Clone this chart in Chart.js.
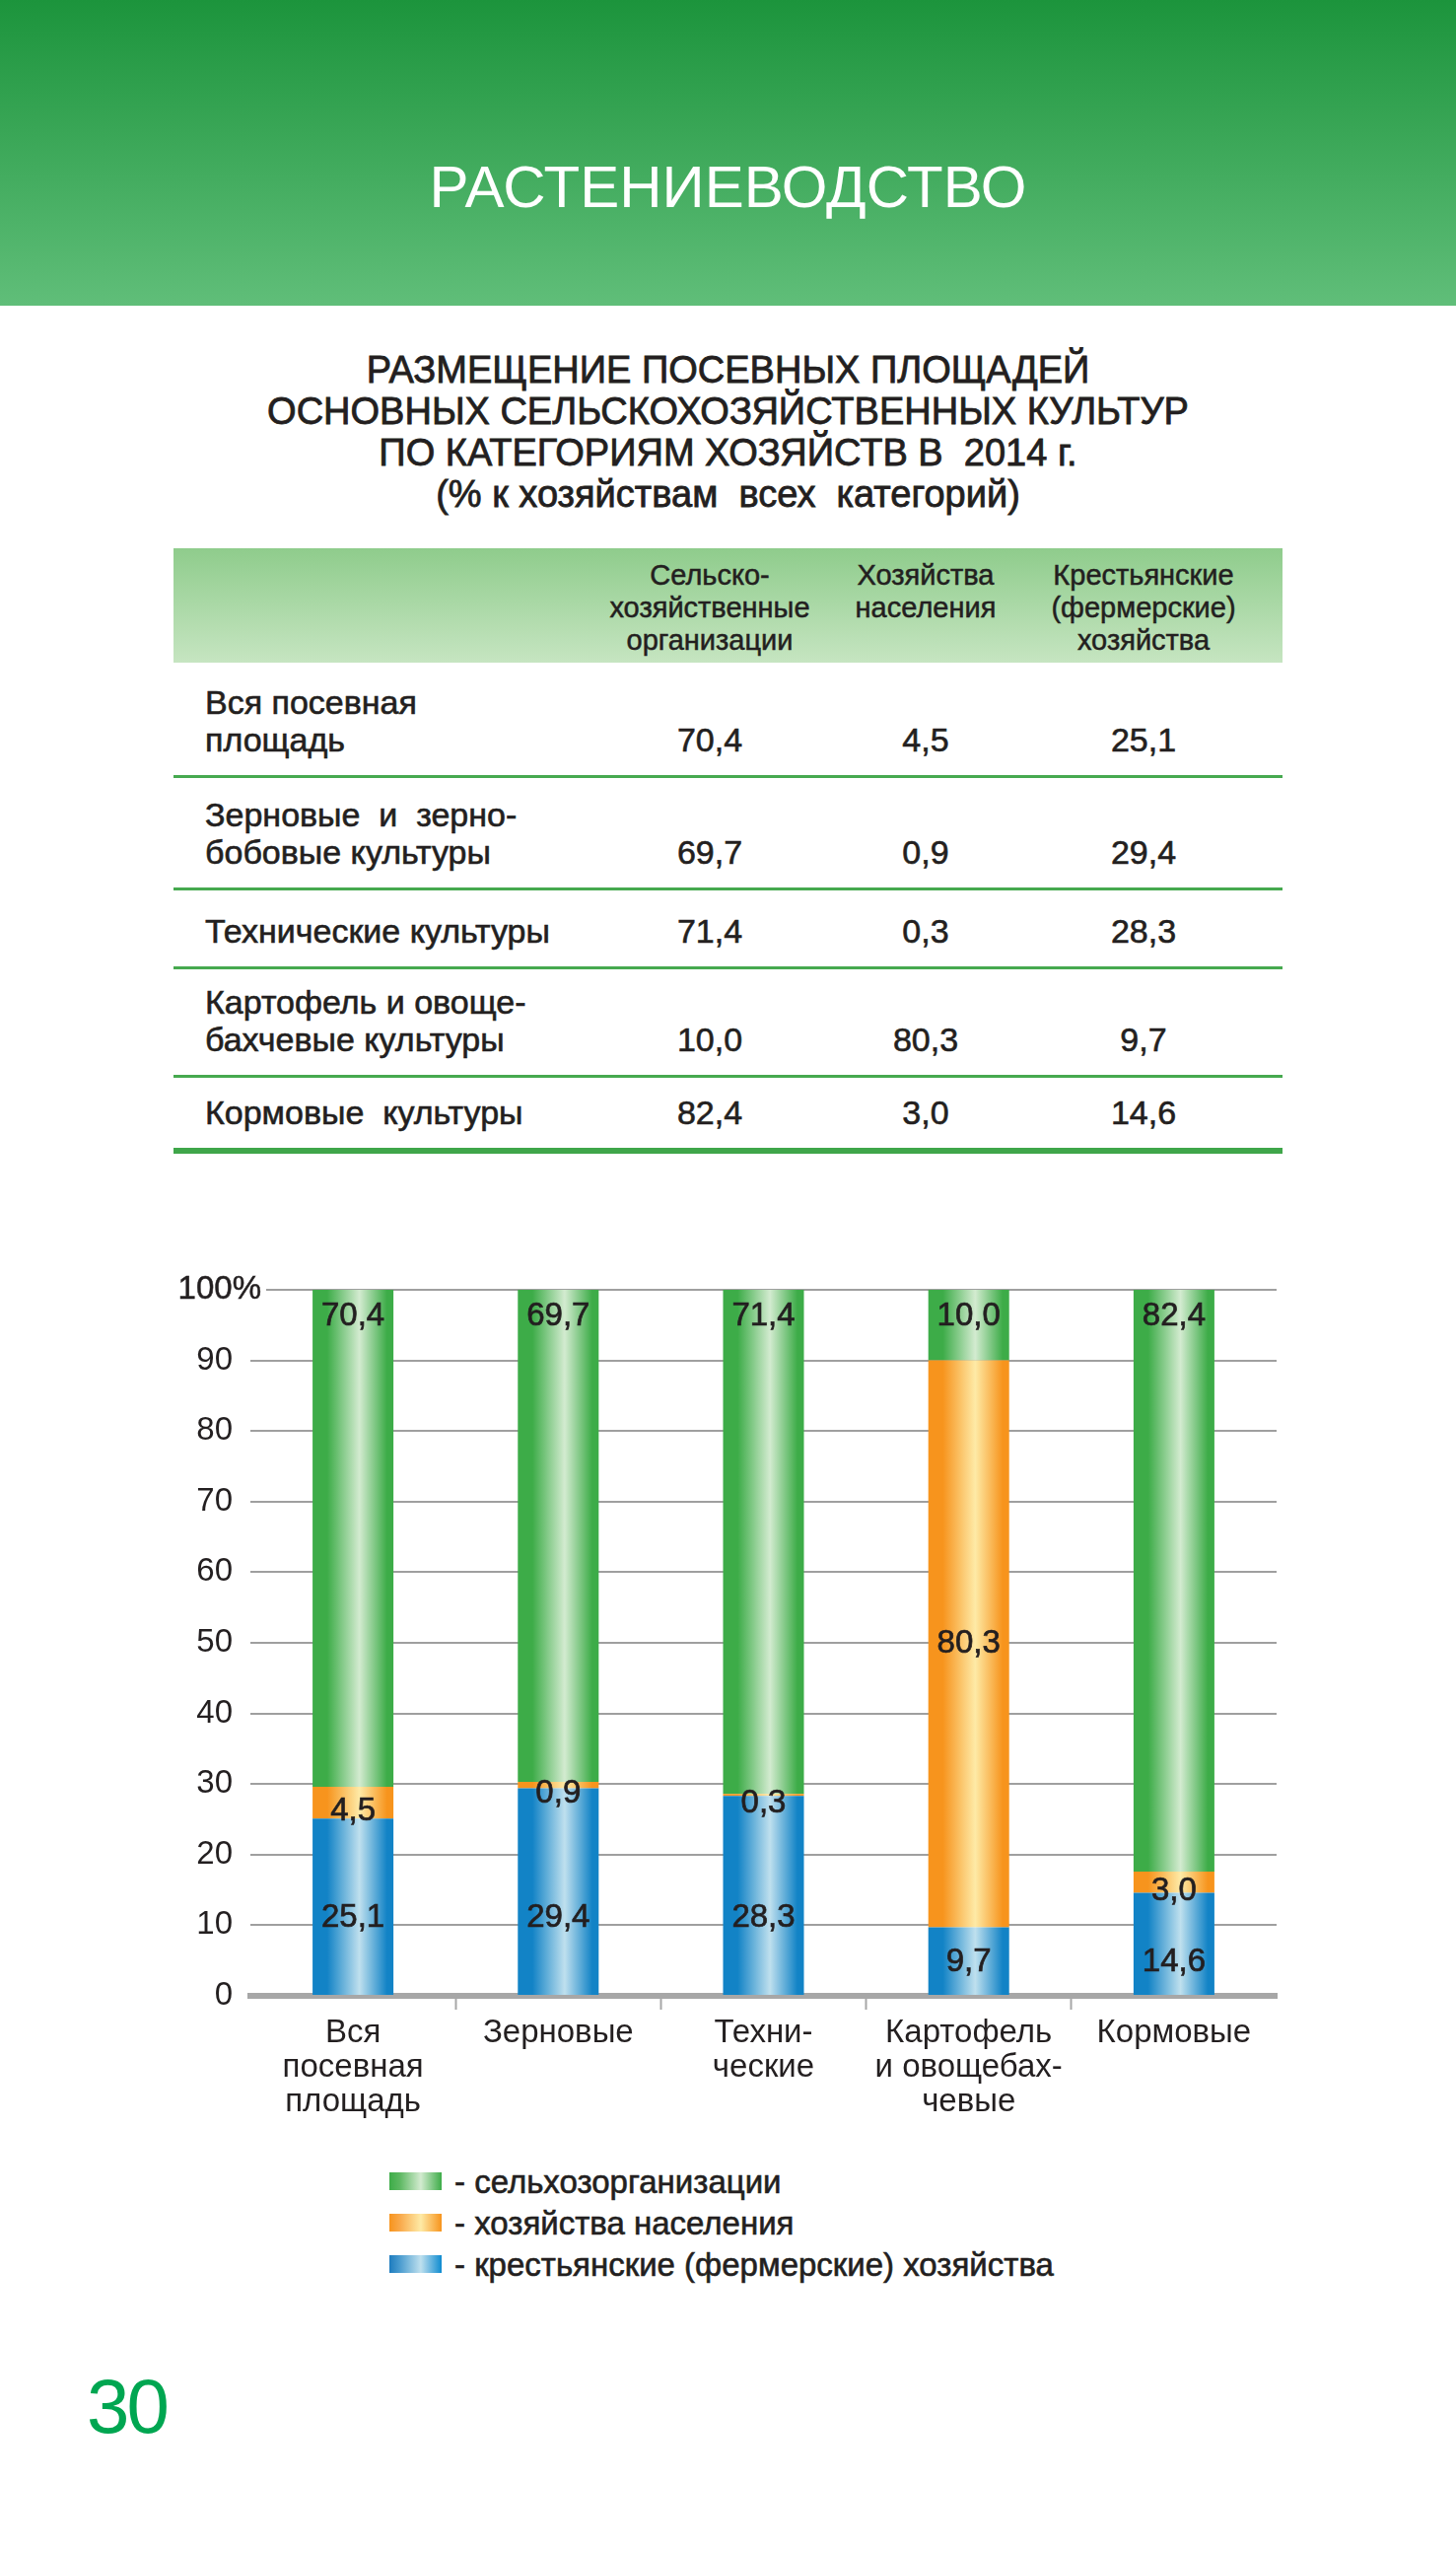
<!DOCTYPE html>
<html>
<head>
<meta charset="utf-8">
<script src="https://cdn.jsdelivr.net/npm/chart.js"></script>
<style>
  body { margin: 0; width: 1477px; height: 2588px; background: #fff; position: relative; font-family: "Liberation Sans", Arial, sans-serif; color: #231f20; overflow: hidden; }
  #head { position: absolute; left: 0; top: 0; width: 1477px; height: 310px; background: linear-gradient(#1c943c, #60be79); }
  #head div { position: absolute; left: 0; width: 100%; top: 150px; text-align: center; color: #fff; font-size: 60px; line-height: 80px; }
  #title { position: absolute; left: 0; top: 354px; width: 1477px; text-align: center; font-size: 38px; line-height: 42px; white-space: pre; -webkit-text-stroke: 0.8px #231f20; }
  #tbl { position: absolute; left: 176px; top: 556px; width: 1125px; border-collapse: collapse; table-layout: fixed; }
  #tbl th { font-weight: normal; font-size: 29px; line-height: 33px; vertical-align: top; padding: 11px 0 0 0; text-align: center; white-space: nowrap; -webkit-text-stroke: 0.5px #231f20; }
  #tbl thead tr { height: 116px; background: linear-gradient(#8fcc8c, #c6e5c1); }
  #tbl td { font-size: 34px; line-height: 38px; vertical-align: bottom; padding: 0 0 17px 0; border-bottom: 3px solid #46a94f; white-space: pre; -webkit-text-stroke: 0.6px #231f20; }
  #tbl td.v { text-align: center; }
  #tbl td.n { padding-left: 32px; }
  #tbl tr.last td { border-bottom: 6px solid #3fa64a; }
  #chartBox { position: absolute; left: 100px; top: 1280px; width: 1220px; height: 880px; }
  #legend { position: absolute; left: 395px; top: 2192px; }
  #legend div { height: 42px; font-size: 33px; line-height: 42px; white-space: nowrap; -webkit-text-stroke: 0.6px #231f20; }
  #legend span.sw { display: inline-block; width: 53px; height: 18px; margin-right: 13px; vertical-align: middle; position: relative; top: -3px; -webkit-text-stroke: 0; }
  #page { position: absolute; left: 88px; top: 2395px; font-size: 78px; line-height: 90px; color: #00a651; letter-spacing: -3px; }
</style>
</head>
<body>
<div id="head"><div>РАСТЕНИЕВОДСТВО</div></div>
<div id="title">РАЗМЕЩЕНИЕ ПОСЕВНЫХ ПЛОЩАДЕЙ
ОСНОВНЫХ СЕЛЬСКОХОЗЯЙСТВЕННЫХ КУЛЬТУР
ПО КАТЕГОРИЯМ ХОЗЯЙСТВ В  2014 г.
(% к хозяйствам  всех  категорий)</div>
<table id="tbl">
  <colgroup><col style="width:434px"><col style="width:220px"><col style="width:218px"><col style="width:224px"><col style="width:29px"></colgroup>
  <thead><tr id="thr"><th></th></tr></thead>
  <tbody id="tb"></tbody>
</table>
<div id="chartBox"><canvas id="barChart"></canvas></div>
<div id="legend"></div>
<div id="page">30</div>

<script>
// categories on the chart axis and in the table
const categories = [['Вся', 'посевная', 'площадь'], ['Зерновые'], ['Техни-', 'ческие'], ['Картофель', 'и овощебах-', 'чевые'], ['Кормовые']];
const rowNames = [['Вся посевная', 'площадь'], ['Зерновые  и  зерно-', 'бобовые культуры'], ['Технические культуры'], ['Картофель и овоще-', 'бахчевые культуры'], ['Кормовые  культуры']];
const columnHeads = [['Сельско-', 'хозяйственные', 'организации'], ['Хозяйства', 'населения'], ['Крестьянские', '(фермерские)', 'хозяйства']];
const seriesNames = ['сельхозорганизации', 'хозяйства населения', 'крестьянские (фермерские) хозяйства'];

// % share by category of farms
const orgs = [70.4, 69.7, 71.4, 10.0, 82.4];
const households = [4.5, 0.9, 0.3, 80.3, 3.0];
const farmers = [25.1, 29.4, 28.3, 9.7, 14.6];

const rowHeights = [115, 114, 80, 110, 76];
const BAR_PCT = 0.394;

function fmt(v) { return v.toFixed(1).replace('.', ','); }

// table
const thr = document.getElementById('thr');
columnHeads.forEach(h => {
    const th = document.createElement('th');
    th.innerHTML = h.join('<br>');
    thr.appendChild(th);
});
thr.appendChild(document.createElement('th'));
const tb = document.getElementById('tb');
rowNames.forEach((name, i) => {
    const tr = document.createElement('tr');
    tr.style.height = rowHeights[i] + 'px';
    if (i === rowNames.length - 1) tr.className = 'last';
    let html = '<td class="n">' + name.join('\n') + '</td>';
    [orgs, households, farmers].forEach(s => { html += '<td class="v">' + fmt(s[i]) + '</td>'; });
    html += '<td></td>';
    tr.innerHTML = html;
    tb.appendChild(tr);
});

const colors = [
    { edge: '#3dac48', mid: '#d3ebd0', css: 'linear-gradient(to right,#3dac48,#5db862 20%,#d3ebd0 60%,#3dac48)' },
    { edge: '#f7941d', mid: '#feeaa6', css: 'linear-gradient(to right,#f7941d,#f9a94a 20%,#feeaa6 60%,#f7941d)' },
    { edge: '#1283c6', mid: '#bfe0ee', css: 'linear-gradient(to right,#1e7cbf,#4a9ccf 20%,#bfe0ee 60%,#0f8bd0)' }
];

// legend
const legend = document.getElementById('legend');
seriesNames.forEach((n, i) => {
    const d = document.createElement('div');
    d.innerHTML = '<span class="sw" style="background:' + colors[i].css + '"></span>- ' + n;
    legend.appendChild(d);
});

function barGradient(edge, mid) {
    return function(ctx) {
        const chart = ctx.chart;
        const xs = chart.scales.x;
        if (!xs || ctx.dataIndex === undefined || !xs.width) return edge;
        const cx = xs.getPixelForValue(ctx.dataIndex);
        const w = xs.width / categories.length * BAR_PCT;
        const g = chart.ctx.createLinearGradient(cx - w / 2, 0, cx + w / 2, 0);
        g.addColorStop(0, edge);
        g.addColorStop(0.18, edge);
        g.addColorStop(0.58, mid);
        g.addColorStop(0.92, edge);
        g.addColorStop(1, edge);
        return g;
    };
}

const FONT = '"Liberation Sans", Arial, sans-serif';

function inkText(c, t, x, y) {
    c.fillText(t, x, y);
    c.strokeText(t, x, y);
}

const valueLabels = {
    id: 'valueLabels',
    afterDatasetsDraw(chart) {
        const c = chart.ctx;
        c.save();
        c.font = '33px ' + FONT;
        c.fillStyle = '#231f20';
        c.strokeStyle = '#231f20';
        c.lineWidth = 0.7;
        c.textAlign = 'center';
        c.textBaseline = 'middle';
        chart.data.datasets.forEach((ds, di) => {
            chart.getDatasetMeta(di).data.forEach((bar, i) => {
                const top = Math.min(bar.y, bar.base);
                const base = Math.max(bar.y, bar.base);
                const h = base - top;
                let y;
                if (ds.labelAt === 'top') y = top + 27;
                else if (ds.labelAt === 'bottom') y = h > 150 ? base - 78 : base - 33;
                else y = (top + base) / 2 + (h < 40 ? 9 : 0);
                inkText(c, fmt(ds.data[i]), bar.x, y);
            });
        });
        c.restore();
    }
};

// the top tick label "100%" sits over the start of its gridline
const topTick = {
    id: 'topTick',
    afterDraw(chart) {
        const y = chart.scales.y;
        const c = chart.ctx;
        const py = y.getPixelForValue(y.max);
        c.save();
        c.fillStyle = '#fff';
        c.fillRect(chart.chartArea.left - 2, py - 3, 18, 6);
        c.font = '33px ' + FONT;
        c.fillStyle = '#231f20';
        c.strokeStyle = '#231f20';
        c.lineWidth = 0.5;
        c.textAlign = 'right';
        c.textBaseline = 'middle';
        inkText(c, y.max + '%', chart.chartArea.left + 11, py);
        c.restore();
    }
};

Chart.defaults.font.family = FONT;
Chart.defaults.color = '#231f20';

const ctx = document.getElementById('barChart').getContext('2d');
new Chart(ctx, {
    type: 'bar',
    data: {
        labels: categories,
        datasets: [
            { label: seriesNames[2], data: farmers, backgroundColor: barGradient(colors[2].edge, colors[2].mid), labelAt: 'bottom' },
            { label: seriesNames[1], data: households, backgroundColor: barGradient(colors[1].edge, colors[1].mid), labelAt: 'middle' },
            { label: seriesNames[0], data: orgs, backgroundColor: barGradient(colors[0].edge, colors[0].mid), labelAt: 'top' }
        ]
    },
    options: {
        responsive: true,
        maintainAspectRatio: false,
        animation: false,
        categoryPercentage: 1,
        barPercentage: BAR_PCT,
        layout: { padding: { top: 0, right: 25, left: 0, bottom: 0 } },
        plugins: { legend: { display: false }, tooltip: { enabled: false } },
        scales: {
            x: {
                stacked: true,
                afterFit: s => { s.height = 136; },
                grid: {
                    drawOnChartArea: false,
                    drawTicks: true,
                    tickLength: 14,
                    tickWidth: 2,
                    tickColor: c => (c.index === undefined || c.index === 0) ? 'rgba(0,0,0,0)' : '#a7a7a7'
                },
                border: { display: true, color: '#a7a7a7', width: 6 },
                ticks: { font: { size: 33, lineHeight: 1.06 }, padding: 6, maxRotation: 0, autoSkip: false, color: '#231f20' }
            },
            y: {
                stacked: true,
                min: 0,
                max: 100,
                afterFit: s => { s.width = 154; s.paddingTop = 28; },
                grid: { color: '#9f9f9f', lineWidth: 2, drawTicks: false },
                border: { display: false },
                ticks: {
                    stepSize: 10,
                    padding: 18,
                    font: { size: 33 },
                    color: '#231f20',
                    callback: v => v === 100 ? '' : v
                }
            }
        }
    },
    plugins: [valueLabels, topTick]
});
</script>
</body>
</html>
